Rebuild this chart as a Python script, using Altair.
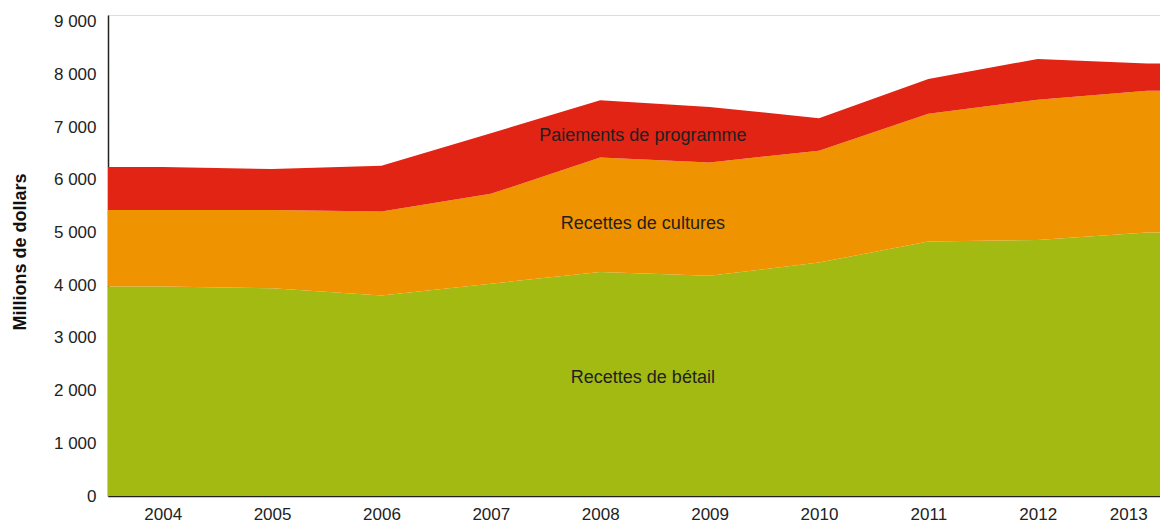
import altair as alt
import pandas as pd

# ---- data (millions de dollars) ----
years = [2004, 2005, 2006, 2007, 2008, 2009, 2010, 2011, 2012, 2013]
betail = [3975, 3945, 3805, 4030, 4250, 4180, 4430, 4830, 4860, 5000]
cultures = [1455, 1485, 1595, 1705, 2175, 2150, 2125, 2425, 2660, 2690]
paiements = [815, 775, 870, 1150, 1085, 1055, 615, 660, 775, 520]

series_names = ["Recettes de bétail", "Recettes de cultures", "Paiements de programme"]
series_colors = ["#A2BA12", "#F09300", "#E22415"]
y_ticks = [0, 1000, 2000, 3000, 4000, 5000, 6000, 7000, 8000, 9000]

# in-area label anchors (data coordinates)
label_x = [2008.39, 2008.39, 2008.39]
label_y = [2240, 5163, 6833]

# plot extends half a year beyond the first year and a little beyond the last
x_min, x_max = 2003.5, 2013.118

rows = []
for k, (name, vals) in enumerate(zip(series_names, [betail, cultures, paiements])):
    xs = [x_min] + years + [x_max]
    vs = [vals[0]] + vals + [vals[-1]]
    for x, v in zip(xs, vs):
        rows.append({"annee": x, "valeur": v, "serie": name, "ordre": k})
df = pd.DataFrame(rows)

labels = pd.DataFrame({"annee": label_x, "valeur": label_y, "texte": series_names})

FONT = "Liberation Sans"
x_scale = alt.Scale(domain=[x_min, x_max], nice=False, zero=False)
y_scale = alt.Scale(domain=[0, 9130], nice=False)

area = alt.Chart(df).mark_area(opacity=1).encode(
    x=alt.X(
        "annee:Q",
        scale=x_scale,
        axis=alt.Axis(
            values=years, format="d", title=None, grid=False, ticks=False, tickSize=0,
            labelPadding=10, labelFontSize=17, labelFont=FONT, labelColor="#222222",
            labelFlush=15, domainColor="#222222", domainWidth=1.5,
        ),
    ),
    y=alt.Y(
        "valeur:Q",
        stack="zero",
        scale=y_scale,
        axis=alt.Axis(
            values=y_ticks,
            labelExpr="replace(format(datum.value, ','), ',', ' ')",
            title="Millions de dollars", titleFont=FONT, titleFontSize=18,
            titleFontWeight="bold", titleColor="#111111",
            titleX=-87.5, titleY=236.5, titleAngle=270, titleBaseline="middle", titleAlign="center",
            grid=False, ticks=False, tickSize=0, labelPadding=12,
            labelFontSize=17, labelFont=FONT, labelColor="#222222",
            domainColor="#222222", domainWidth=1.5,
        ),
    ),
    color=alt.Color("serie:N", scale=alt.Scale(domain=series_names, range=series_colors), legend=None),
    order=alt.Order("ordre:Q"),
)

text = alt.Chart(labels).mark_text(
    font=FONT, fontSize=18, color="#231F20", align="center", baseline="middle"
).encode(
    x=alt.X("annee:Q", scale=x_scale),
    y=alt.Y("valeur:Q", scale=y_scale),
    text="texte:N",
)

chart = (
    alt.layer(area, text)
    .properties(
        width=1052,
        height=481,
        autosize=alt.AutoSizeParams(type="none"),
        padding={"left": 100, "top": 7, "right": 0, "bottom": 29},
    )
    .configure_view(stroke=None)
    .configure(font=FONT)
)

chart.save("out.html", embed_options={"renderer": "svg", "actions": False})
